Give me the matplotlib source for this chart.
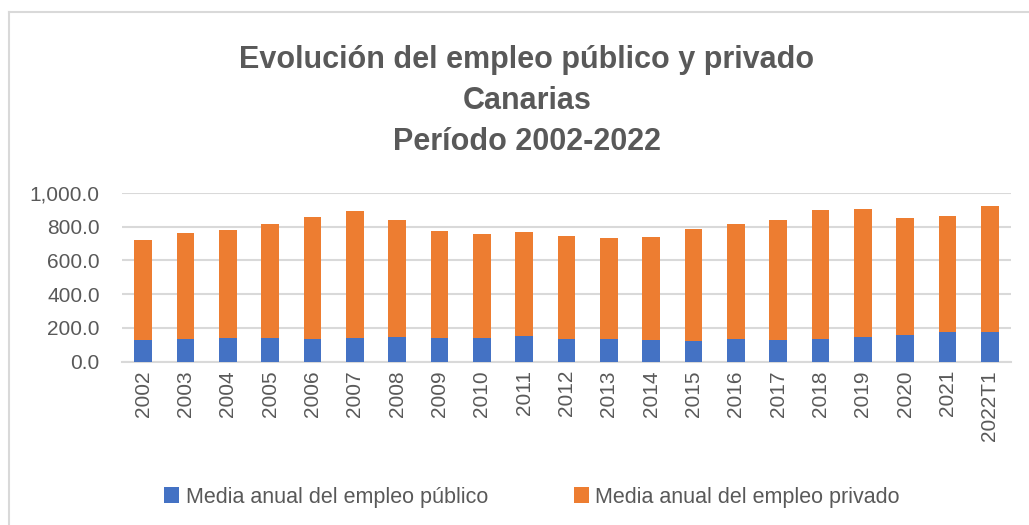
import matplotlib
matplotlib.use("Agg")
import matplotlib.pyplot as plt
from matplotlib.lines import Line2D
from matplotlib import font_manager

years = ["2002", "2003", "2004", "2005", "2006", "2007", "2008", "2009", "2010", "2011",
         "2012", "2013", "2014", "2015", "2016", "2017", "2018", "2019", "2020", "2021", "2022T1"]
publico = [130, 132, 138, 142, 136, 138, 146, 142, 138, 154,
           136, 136, 126, 122, 136, 130, 136, 144, 156, 176, 176]
total = [720, 761, 781, 815, 858, 890, 838, 773, 757, 767,
         742, 730, 736, 787, 815, 840, 897, 905, 848, 860, 921]
privado = [t - p for t, p in zip(total, publico)]

names = {f.name for f in font_manager.fontManager.ttflist}
fam = "Liberation Sans Narrow" if "Liberation Sans Narrow" in names else "Liberation Sans"
plt.rcParams['font.family'] = [fam, 'DejaVu Sans']

GRAY = "#595959"
BLUE = "#4472C4"
ORANGE = "#ED7D31"
W, H = 1029, 525

fig = plt.figure(figsize=(10.29, 5.25), dpi=100)
# chart area border (left and top edges visible)
fig.add_artist(Line2D([8.5 / W, 8.5 / W], [0, 1 - 12 / H], transform=fig.transFigure,
                      color="#D9D9D9", lw=1.5))
fig.add_artist(Line2D([8.5 / W, 1], [1 - 12 / H, 1 - 12 / H], transform=fig.transFigure,
                      color="#D9D9D9", lw=1.5))

ax = fig.add_axes([122 / W, 1 - 361.7 / H, (1011 - 122) / W, (361.7 - 192.7) / H])

x = list(range(len(years)))
ax.bar(x, publico, width=0.41, color=BLUE, label="Media anual del empleo público", zorder=3)
ax.bar(x, privado, width=0.41, bottom=publico, color=ORANGE,
       label="Media anual del empleo privado", zorder=3)

ax.set_xlim(-0.5, len(years) - 0.5)
ax.set_ylim(0, 1000)
yt = [0, 200, 400, 600, 800, 1000]
ax.set_yticks(yt)
ax.set_yticklabels([f"{v:,.1f}" for v in yt])
ax.set_xticks(x)
ax.set_xticklabels(years, rotation=90)
ax.tick_params(axis='both', length=0, labelsize=15, colors=GRAY)
ax.tick_params(axis='x', pad=6)
ax.tick_params(axis='y', pad=16)
ax.grid(axis='y', color="#D9D9D9", lw=1.5, zorder=0)
for s in ["top", "right", "left"]:
    ax.spines[s].set_visible(False)
ax.spines["bottom"].set_color("#D9D9D9")
ax.spines["bottom"].set_linewidth(1.5)

title_lines = ["Evolución del empleo público y privado", "Canarias", "Período 2002-2022"]
baselines = [68, 109, 150]
for line, b in zip(title_lines, baselines):
    fig.text(527 / W, 1 - b / H, line, ha="center", va="baseline", fontsize=22,
             fontweight="bold", color=GRAY)

leg = fig.legend(loc="center", bbox_to_anchor=(532 / W, 1 - 497 / H), ncol=2,
                 frameon=False, fontsize=15.5, handlelength=0.7, handleheight=0.7,
                 columnspacing=4.0, handletextpad=0.3)
for t in leg.get_texts():
    t.set_color(GRAY)

fig.savefig("out.png", dpi=100)
